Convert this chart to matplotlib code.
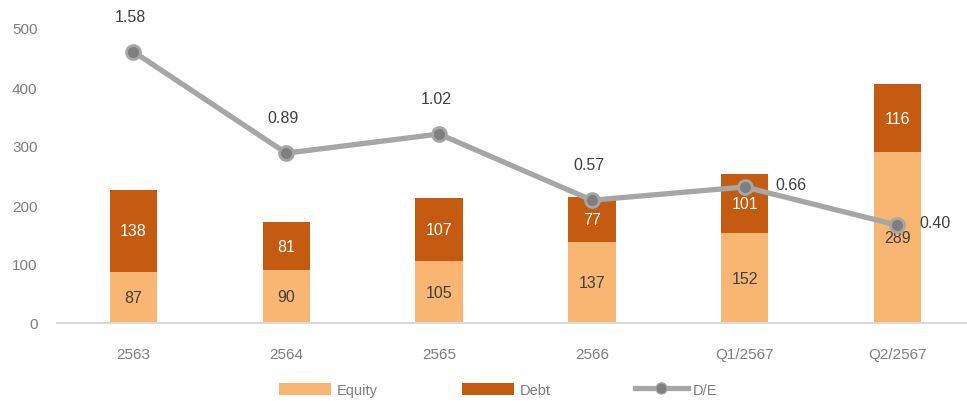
import matplotlib
matplotlib.use("Agg")
import matplotlib.pyplot as plt
import numpy as np
from matplotlib.patches import Patch
from matplotlib.lines import Line2D

categories = ["2563", "2564", "2565", "2566", "Q1/2567", "Q2/2567"]
equity = [87, 90, 105, 137, 152, 289]
debt = [138, 81, 107, 77, 101, 116]
de_ratio = [1.58, 0.89, 1.02, 0.57, 0.66, 0.40]
de_label_pos = ["above", "above", "above", "above", "right", "right"]
de_right_offset = [0, 0, 0, 0, 22, 16]

c_eq = "#F8B672"
c_debt = "#C55A11"
c_line = "#A6A6A6"
c_marker = "#7F7F7F"
c_text = "#404040"
c_tick = "#7F7F7F"

plt.rcParams["font.family"] = ["Liberation Sans", "DejaVu Sans"]

fig = plt.figure(figsize=(9.67, 4.02), dpi=100)
W, H = 967, 402
left_px, right_px = 57, 967
y0_px, y500_px = 324, 29
ax = fig.add_axes([left_px / W, 1 - y0_px / H, (right_px - left_px) / W, (y0_px - y500_px) / H])

x = np.arange(len(categories))
bw = 0.31
ax.bar(x, equity, bw, color=c_eq, zorder=2)
ax.bar(x, debt, bw, bottom=equity, color=c_debt, zorder=2)

for xi, e, d in zip(x, equity, debt):
    ax.text(xi, e / 2, f"{e}", ha="center", va="center", color=c_text, fontsize=11.5, zorder=5)
    ax.text(xi, e + d / 2, f"{d}", ha="center", va="center", color="white", fontsize=11.5, zorder=5)

ax.set_xlim(-0.5, 5.455)
ax.set_ylim(0, 500)
ax.set_yticks([0, 100, 200, 300, 400, 500])
ax.set_xticks(x)
ax.set_xticklabels(categories)
ax.tick_params(axis="both", length=0, colors=c_tick, labelsize=11)
ax.tick_params(axis="x", pad=17)
ax.tick_params(axis="y", pad=14)
for s in ["top", "right", "left"]:
    ax.spines[s].set_visible(False)
ax.spines["bottom"].set_color("#D9D9D9")
ax.spines["bottom"].set_linewidth(1.5)

ax2 = ax.twinx()
ax2.set_ylim(-0.265, 1.741)
ax2.axis("off")
ax2.plot(x, de_ratio, color=c_line, lw=3.8, marker="o", markersize=10,
         markerfacecolor=c_marker, markeredgecolor=c_line, markeredgewidth=2, zorder=3)
for xi, v, pos, off in zip(x, de_ratio, de_label_pos, de_right_offset):
    if pos == "above":
        ax2.annotate(f"{v:.2f}", (xi, v), xytext=(-2, 20), textcoords="offset points",
                     ha="center", va="bottom", color=c_text, fontsize=11.5, annotation_clip=False)
    else:
        ax2.annotate(f"{v:.2f}", (xi, v), xytext=(off, 2), textcoords="offset points",
                     ha="left", va="center", color=c_text, fontsize=11.5, annotation_clip=False)

handles = [Patch(facecolor=c_eq, edgecolor="none"),
           Patch(facecolor=c_debt, edgecolor="none"),
           Line2D([0], [0], color=c_line, lw=3.8, marker="o", markersize=8,
                  markerfacecolor=c_marker, markeredgecolor=c_line)]
fig.legend(handles, ["Equity", "Debt", "D/E"], loc="center", bbox_to_anchor=(0.515, 1 - 391 / H),
           ncol=3, frameon=False, handlelength=3.6, handleheight=0.9, handletextpad=0.35,
           columnspacing=5.8, fontsize=10.5, labelcolor=c_tick)

fig.savefig("out.png", dpi=100)
